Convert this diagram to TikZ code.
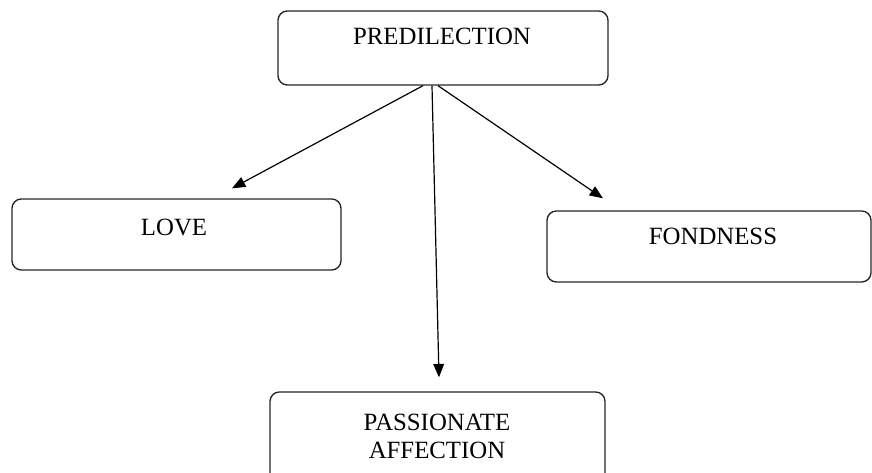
\documentclass[tikz,border=0pt]{standalone}
\usepackage{fontspec}
\setmainfont{Liberation Serif}
\usetikzlibrary{arrows.meta,calc}
\begin{document}
\begin{tikzpicture}[x=0.75pt,y=-0.75pt,
  box/.style={draw=black!85,line width=1pt,rounded corners=7pt,inner sep=0pt},
  lbl/.style={inner sep=0pt,align=center,text=black,font=\fontsize{18.6}{21}\selectfont},
  arr/.style={draw=black,line width=0.9pt,-{Triangle[length=10pt,width=8pt]}}]
\useasboundingbox (0,0) rectangle (872,473);
\node[box,minimum width=247.5pt,minimum height=55.5pt] (pred) at (443,48) {};
\node[box,minimum width=246.75pt,minimum height=53.25pt] (love) at (176.5,234.5) {};
\node[box,minimum width=243pt,minimum height=53.25pt] (fond) at (709,246.5) {};
\node[box,minimum width=251.25pt,minimum height=69.75pt] (pass) at (437.5,438.5) {};
\node[lbl] (predt) at (442,36) {PREDILECTION};
\node[lbl] (lovet) at (174,227) {LOVE};
\node[lbl] (fondt) at (713,236) {FONDNESS};
\node[lbl] (passt) at (437,436) {PASSIONATE\\AFFECTION};
\draw[arr] ($(pred.south)+(-20,0)$) -- ($(love.north)+(55.5,-10)$);
\draw[arr] ($(pred.south)+(-11,0)$) -- ($(pass.north)+(1.5,-14)$);
\draw[arr] ($(pred.south)+(-5,0)$) -- ($(fond.north)+(-106,-12)$);
\end{tikzpicture}
\end{document}
